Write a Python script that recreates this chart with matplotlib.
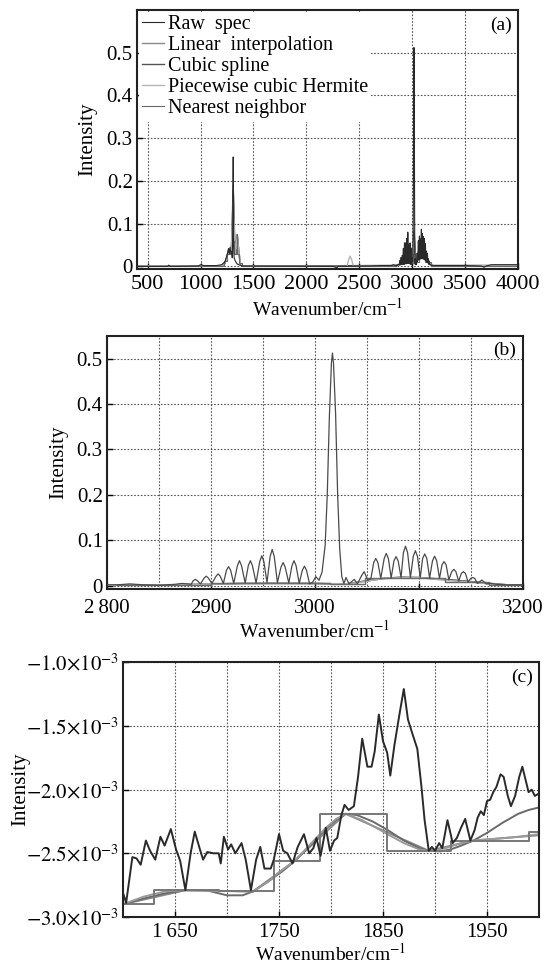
import numpy as np
import matplotlib
matplotlib.use('Agg')
import matplotlib.pyplot as plt

plt.rcParams['font.family'] = ['Liberation Serif', 'DejaVu Serif']
plt.rcParams['mathtext.fontset'] = 'stix'
plt.rcParams['font.size'] = 14

# ---------------- data -----------------
series_names = ['Raw  spec', 'Linear  interpolation', 'Cubic spline',
                'Piecewise cubic Hermite', 'Nearest neighbor']
series_colors = ['#2a2a2a', '#8a8a8a', '#555555', '#b4b4b4', '#6a6a6a']

# raw spectrum, 2800-3200 cm-1 (panel b, also used in panel a)
raw_b_wn = [2800, 2810, 2822, 2835, 2850, 2865, 2872, 2878, 2881,
            2883, 2885, 2887, 2890,
            2893.5, 2895.5, 2897.5, 2901,
            2905, 2907, 2909, 2912,
            2915, 2917, 2919, 2922,
            2925.5, 2927.5, 2929.5, 2933,
            2936, 2938, 2940, 2943.5,
            2947, 2949, 2951, 2954,
            2957, 2959, 2961, 2964,
            2967.5, 2969.5, 2971.5, 2975,
            2978, 2980, 2982, 2985,
            2988, 2990, 2992, 2995,
            2998, 3001, 3004, 3007, 3010, 3012, 3014, 3016, 3017, 3018, 3020,
            3022, 3024, 3026, 3028, 3030, 3033, 3038, 3041, 3045, 3047.5,
            3051, 3054,
            3056.7, 3058.7, 3060.7, 3063.5,
            3066.8, 3068.8, 3070.8, 3073.5,
            3076.2, 3078.2, 3080.2, 3083,
            3085.3, 3087.3, 3089.3, 3092,
            3094.8, 3096.8, 3098.8, 3101.5,
            3103.8, 3105.8, 3107.8, 3110.5,
            3113.3, 3115.3, 3117.3, 3120,
            3122.4, 3124.4, 3126.4, 3129,
            3131.8, 3133.8, 3135.8, 3138.5,
            3141, 3143, 3145, 3147.5,
            3150, 3152, 3154, 3156.5,
            3160.8, 3165, 3169.2, 3175, 3185, 3200]
raw_b_int = [0.002, 0.002, 0.004, 0.002, 0.001, 0.003, 0.005, 0.004, 0.003,
             0.011, 0.014, 0.011, 0.004,
             0.017, 0.021, 0.017, 0.005,
             0.021, 0.026, 0.021, 0.005,
             0.034, 0.042, 0.034, 0.005,
             0.044, 0.055, 0.044, 0.006,
             0.044, 0.055, 0.044, 0.006,
             0.053, 0.066, 0.053, 0.007,
             0.064, 0.080, 0.064, 0.007,
             0.041, 0.051, 0.041, 0.006,
             0.044, 0.055, 0.044, 0.005,
             0.034, 0.043, 0.034, 0.004,
             0.008, 0.020, 0.012, 0.030, 0.090, 0.200, 0.370, 0.490, 0.512,
             0.490, 0.380, 0.200, 0.080, 0.020, 0.005, 0.018, 0.004, 0.014,
             0.004, 0.022, 0.031, 0.012, 0.016,
             0.051, 0.060, 0.051, 0.016,
             0.060, 0.071, 0.060, 0.017,
             0.055, 0.064, 0.055, 0.018,
             0.073, 0.087, 0.073, 0.018,
             0.065, 0.077, 0.065, 0.018,
             0.060, 0.070, 0.060, 0.017,
             0.055, 0.065, 0.055, 0.016,
             0.046, 0.053, 0.046, 0.013,
             0.031, 0.036, 0.031, 0.010,
             0.027, 0.031, 0.027, 0.008,
             0.016, 0.018, 0.016, 0.005,
             0.0125, 0.004, 0.005, 0.003, 0.002, 0.002]

# raw spectrum outside 2800-3200 (panel a)
raw_lo_wn = [400, 690, 700, 715, 980, 1000, 1030, 1150, 1200, 1230, 1255,
             1265, 1272, 1280, 1287, 1295, 1300, 1305, 1309, 1312, 1318, 1330,
             1345, 1370, 1400, 2250, 2290, 2300, 2600, 2700]
raw_lo_int = [0.0, 0.0, 0.003, 0.0, 0.001, 0.004, 0.002, 0.002, 0.004, 0.010,
              0.030, 0.042, 0.030, 0.045, 0.030, 0.035, 0.020, 0.080, 0.256,
              0.050, 0.020, 0.012, 0.006, 0.003, 0.001, 0.0, -0.003, 0.0,
              0.001, 0.002]
raw_hi_wn = [3500, 3650, 3680, 3700, 3750, 4000]
raw_hi_int = [0.002, 0.001, -0.002, 0.001, 0.004, 0.004]

# interpolated curves, panel a
lin_a_wn = [400, 1200, 1240, 1268, 1290, 1309, 1328, 1347, 1375, 1400, 2800,
            2900, 2955, 3000, 3017, 3035, 3090, 3150, 3200, 4000]
lin_a_int = [0.001, 0.001, 0.012, 0.040, 0.028, 0.190, 0.030, 0.075, 0.008,
             0.001, 0.002, 0.005, 0.020, 0.008, 0.085, 0.010, 0.022, 0.010,
             0.002, 0.002]
cub_a_wn = [400, 1200, 1230, 1250, 1268, 1280, 1290, 1300, 1309, 1318, 1328,
            1338, 1347, 1360, 1375, 1400, 2800, 2900, 2930, 2955, 2980, 3000,
            3010, 3017, 3025, 3035, 3060, 3090, 3120, 3150, 3200, 4000]
cub_a_int = [0.001, 0.001, 0.006, 0.025, 0.040, 0.032, 0.030, 0.090, 0.180,
             0.090, 0.030, 0.055, 0.074, 0.040, 0.006, 0.001, 0.002, 0.005,
             0.014, 0.020, 0.014, 0.008, 0.040, 0.080, 0.045, 0.010, 0.016,
             0.022, 0.018, 0.010, 0.002, 0.002]
pch_a_wn = [400, 1200, 1240, 1268, 1290, 1309, 1328, 1347, 1375, 1400, 2385,
            2400, 2413, 2428, 2445, 2800, 2900, 2955, 3000, 3017, 3035, 3090,
            3150, 3200, 4000]
pch_a_int = [0.001, 0.001, 0.012, 0.040, 0.028, 0.150, 0.030, 0.070, 0.008,
             0.001, 0.0, 0.016, 0.024, 0.016, 0.0, 0.002, 0.005, 0.018, 0.008,
             0.060, 0.010, 0.020, 0.010, 0.002, 0.002]
near_a_wn = [400, 1200, 1240, 1262, 1268, 1274, 1290, 1305, 1309, 1313, 1328,
             1343, 1347, 1351, 1375, 1400, 2800, 2900, 2955, 3000, 3014, 3017,
             3020, 3035, 3090, 3150, 3200, 4000]
near_a_int = [0.001, 0.001, 0.012, 0.030, 0.040, 0.030, 0.028, 0.060, 0.170,
              0.060, 0.030, 0.040, 0.070, 0.030, 0.008, 0.001, 0.002, 0.005,
              0.018, 0.008, 0.030, 0.070, 0.030, 0.010, 0.020, 0.010, 0.002,
              0.002]

# interpolated curves, panel b
samp_b_wn = [2810, 2870, 2930, 3000, 3030, 3066, 3100, 3150, 3185, 3230]
samp_b_int = [0.001, 0.002, 0.005, 0.005, 0.004, 0.016, 0.018, 0.009, 0.002,
              0.001]
cub_b_wn = [2800, 2810, 2840, 2870, 2900, 2930, 2965, 3000, 3015, 3030, 3048,
            3066, 3083, 3100, 3125, 3150, 3167, 3185, 3200]
cub_b_int = [0.001, 0.001, 0.001, 0.002, 0.004, 0.005, 0.0055, 0.005, 0.004,
             0.004, 0.010, 0.016, 0.019, 0.018, 0.014, 0.009, 0.005, 0.002,
             0.001]
pch_b_wn = [2800, 2810, 2870, 2900, 2930, 3000, 3030, 3048, 3066, 3083, 3100,
            3125, 3150, 3167, 3185, 3200]
pch_b_int = [0.001, 0.001, 0.002, 0.004, 0.005, 0.005, 0.004, 0.009, 0.016,
             0.0175, 0.018, 0.012, 0.008, 0.004, 0.002, 0.001]

# panel c, intensity in units of 1e-3
raw_c_wn = [1600, 1603, 1609, 1613, 1617, 1622, 1626, 1631, 1636, 1640, 1646,
            1651, 1655, 1660, 1665, 1669, 1674, 1677, 1681, 1687, 1692, 1694,
            1697, 1701, 1704, 1708, 1714, 1718, 1723, 1728, 1732, 1736, 1742,
            1745, 1750, 1754, 1758, 1763, 1768, 1774, 1779, 1783, 1786, 1790,
            1795, 1799, 1803, 1806, 1810, 1813, 1817, 1822, 1826, 1830, 1835,
            1839, 1842, 1846, 1850, 1854, 1857, 1861, 1866, 1870, 1874, 1879,
            1883, 1887, 1890, 1894, 1897, 1900, 1904, 1907, 1912, 1917, 1921,
            1925, 1929, 1934, 1938, 1941, 1944, 1947, 1950, 1953, 1956, 1959,
            1963, 1966, 1970, 1973, 1977, 1981, 1984, 1987, 1990, 1993, 1996,
            2000]
raw_c_int = [-2.81, -2.89, -2.53, -2.54, -2.59, -2.40, -2.48, -2.55, -2.37,
             -2.44, -2.31, -2.47, -2.56, -2.79, -2.50, -2.33, -2.47, -2.55,
             -2.49, -2.50, -2.50, -2.58, -2.37, -2.47, -2.43, -2.50, -2.42,
             -2.55, -2.79, -2.55, -2.45, -2.62, -2.62, -2.55, -2.35, -2.48,
             -2.50, -2.58, -2.45, -2.35, -2.50, -2.46, -2.38, -2.52, -2.30,
             -2.48, -2.40, -2.38, -2.20, -2.12, -2.16, -2.13, -1.90, -1.60,
             -1.82, -1.82, -1.70, -1.41, -1.62, -1.71, -1.89, -1.65, -1.40,
             -1.21, -1.45, -1.58, -1.68, -1.98, -2.24, -2.48, -2.45, -2.48,
             -2.42, -2.46, -2.24, -2.42, -2.38, -2.30, -2.23, -2.40, -2.32,
             -2.22, -2.17, -2.20, -2.09, -2.08, -2.02, -1.98, -1.88, -1.90,
             -2.05, -2.13, -2.05, -1.90, -1.82, -1.92, -2.02, -2.00, -2.05,
             -2.03]
samp_c_wn = [1600, 1660, 1725, 1765, 1814, 1894, 1937, 2043]
samp_c_int = [-2.90, -2.79, -2.80, -2.56, -2.19, -2.48, -2.40, -2.33]
cub_c_wn = [1600, 1620, 1640, 1660, 1680, 1700, 1715, 1725, 1740, 1755, 1765,
            1780, 1795, 1805, 1814, 1825, 1840, 1855, 1870, 1885, 1894, 1905,
            1915, 1925, 1937, 1950, 1965, 1980, 1990, 2000]
cub_c_int = [-2.90, -2.855, -2.815, -2.79, -2.79, -2.83, -2.83, -2.80, -2.72,
             -2.63, -2.56, -2.44, -2.31, -2.24, -2.19, -2.20, -2.25, -2.32,
             -2.40, -2.46, -2.48, -2.485, -2.47, -2.44, -2.40, -2.34, -2.26,
             -2.19, -2.16, -2.14]
pch_c_wn = [1600, 1620, 1640, 1660, 1690, 1725, 1740, 1750, 1765, 1780, 1795,
            1805, 1814, 1830, 1850, 1870, 1885, 1894, 1910, 1925, 1937, 1960,
            1980, 2000]
pch_c_int = [-2.90, -2.84, -2.80, -2.79, -2.795, -2.80, -2.72, -2.65, -2.56,
             -2.43, -2.30, -2.23, -2.19, -2.24, -2.33, -2.42, -2.47, -2.48,
             -2.46, -2.42, -2.40, -2.385, -2.37, -2.35]

# ticks
xt_a = [500, 1000, 1500, 2000, 2500, 3000, 3500, 4000]
yt_ab = [0, 0.1, 0.2, 0.3, 0.4, 0.5]
yt_ab_labels = ['0', '0.1', '0.2', '0.3', '0.4', '0.5']
xt_b = [2800, 2900, 3000, 3100, 3200]
xt_b_labels = ['2\u2009800', '2900', '3000', '3100', '3200']
xt_c = [1650, 1750, 1850, 1950]
xt_c_labels = ['1\u2009650', '1750', '1850', '1950']
yt_c = [-3.0, -2.5, -2.0, -1.5, -1.0]
yt_c_labels = [r'$-3.0{\times}10^{-3}$', r'$-2.5{\times}10^{-3}$',
               r'$-2.0{\times}10^{-3}$', r'$-1.5{\times}10^{-3}$',
               r'$-1.0{\times}10^{-3}$']

xlab = r'Wavenumber/cm$^{-1}$'


def style_axes(ax, xsize=15, xpad=4):
    for s in ax.spines.values():
        s.set_linewidth(1.5)
        s.set_color('#222222')
    ax.grid(True, which='both', linestyle=(0, (1.5, 1.5)), color='#555555',
            linewidth=0.8)
    ax.tick_params(which='major', direction='in', length=4, width=1,
                   labelsize=15, pad=3)
    ax.tick_params(axis='x', which='major', labelsize=xsize, pad=xpad)
    ax.tick_params(which='minor', length=0)
    ax.set_axisbelow(True)


fig = plt.figure(figsize=(5.45, 9.63), dpi=100)

# ---- (a) ----
ax1 = fig.add_axes([0.2514, 0.7207, 0.699, 0.269])
raw_a_wn = raw_lo_wn + raw_b_wn + raw_hi_wn
raw_a_int = raw_lo_int + raw_b_int + raw_hi_int
h0, = ax1.plot(raw_a_wn, raw_a_int, color=series_colors[0], lw=0.8, zorder=5)
h1, = ax1.plot(lin_a_wn, lin_a_int, color=series_colors[1], lw=1.0)
h2, = ax1.plot(cub_a_wn, cub_a_int, color=series_colors[2], lw=1.0)
h3, = ax1.plot(pch_a_wn, pch_a_int, color=series_colors[3], lw=1.0)
h4, = ax1.plot(near_a_wn, near_a_int, color=series_colors[4], lw=0.8,
               drawstyle='steps-mid')
ax1.set_xlim(400, 4000)
ax1.set_ylim(-0.006, 0.6)
ax1.set_xticks(xt_a)
ax1.set_yticks(yt_ab, yt_ab_labels)
style_axes(ax1, xsize=16)
ax1.set_ylabel('Intensity', fontsize=15)
ax1.yaxis.set_label_coords(-0.105, 0.5)
ax1.set_xlabel(xlab, fontsize=14)
ax1.xaxis.set_label_coords(0.5, -0.11)
ax1.text(0.985, 0.975, '(a)', transform=ax1.transAxes, ha='right', va='top',
         fontsize=14)
leg = ax1.legend([h0, h1, h2, h3, h4], series_names, loc='upper left',
                 fontsize=14.5, frameon=True, framealpha=1, edgecolor='none',
                 facecolor='white', fancybox=False, borderaxespad=0.1,
                 borderpad=0.15, handlelength=1.1, handletextpad=0.2,
                 labelspacing=0.1)
leg.set_zorder(10)

# ---- (b) ----
ax2 = fig.add_axes([0.1963, 0.388, 0.7626, 0.2633])
ax2.plot(raw_b_wn, raw_b_int, color='#4a4a4a', lw=0.9, zorder=5)
ax2.plot(samp_b_wn, samp_b_int, color=series_colors[1], lw=1.1)
ax2.plot(cub_b_wn, cub_b_int, color=series_colors[2], lw=1.1)
ax2.plot(pch_b_wn, pch_b_int, color=series_colors[3], lw=1.1)
ax2.plot(samp_b_wn, samp_b_int, color=series_colors[4], lw=1.0,
         drawstyle='steps-mid')
ax2.set_xlim(2800, 3200)
ax2.set_ylim(-0.008, 0.55)
ax2.set_xticks(xt_b, xt_b_labels)
ax2.set_xticks(np.arange(2850, 3200, 100), minor=True)
ax2.set_yticks(yt_ab, yt_ab_labels)
style_axes(ax2, xpad=7)
ax2.set_ylabel('Intensity', fontsize=15)
ax2.yaxis.set_label_coords(-0.094, 0.5)
ax2.set_xlabel(xlab, fontsize=14)
ax2.xaxis.set_label_coords(0.5, -0.118)
ax2.text(0.985, 0.975, '(b)', transform=ax2.transAxes, ha='right', va='top',
         fontsize=14)

# ---- (c) ----
ax3 = fig.add_axes([0.2257, 0.0478, 0.7633, 0.2645])
ax3.plot(raw_c_wn, raw_c_int, color='#2a2a2a', lw=1.4, zorder=5)
ax3.plot(samp_c_wn, samp_c_int, color=series_colors[1], lw=1.4)
ax3.plot(cub_c_wn, cub_c_int, color='#6a6a6a', lw=1.4)
ax3.plot(pch_c_wn, pch_c_int, color='#9a9a9a', lw=1.4)
ax3.plot(samp_c_wn, samp_c_int, color='#777777', lw=1.4,
         drawstyle='steps-mid')
ax3.set_xlim(1600, 2000)
ax3.set_ylim(-3.0, -1.0)
ax3.set_xticks(xt_c, xt_c_labels)
ax3.set_xticks([1700, 1800, 1900], minor=True)
ax3.set_yticks(yt_c, yt_c_labels)
style_axes(ax3)
ax3.set_ylabel('Intensity', fontsize=15)
ax3.yaxis.set_label_coords(-0.224, 0.5)
ax3.set_xlabel(xlab, fontsize=14)
ax3.xaxis.set_label_coords(0.5, -0.10)
ax3.text(0.985, 0.975, '(c)', transform=ax3.transAxes, ha='right', va='top',
         fontsize=14)

fig.savefig('out.png', dpi=100)
